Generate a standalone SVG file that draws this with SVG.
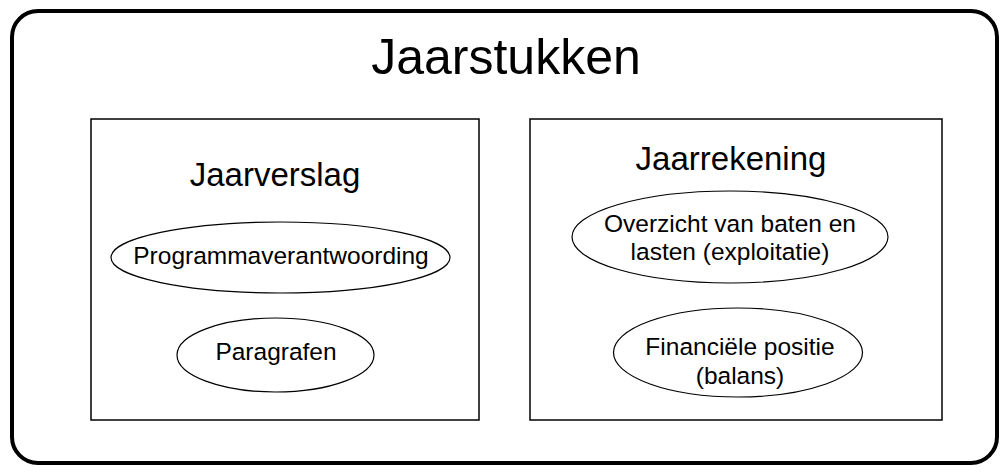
<svg xmlns="http://www.w3.org/2000/svg" width="1005" height="472" viewBox="0 0 1005 472">
<style>
text { font-family: "Liberation Sans", Arial, sans-serif; fill: #000; text-anchor: middle; }
.box { fill: #fff; stroke: #000; stroke-width: 1.5; }
.ell { fill: #fff; stroke: #000; stroke-width: 1.2; }
.t1 { font-size: 50px; }
.t2 { font-size: 33px; }
.t3 { font-size: 24.5px; }
</style>
<rect width="1005" height="472" fill="#fff"/>
<g id="jaarstukken">
<rect x="12" y="11" width="985" height="452" rx="26" ry="26" fill="#fff" stroke="#000" stroke-width="4"/>
<text class="t1" x="506" y="74">Jaarstukken</text>
</g>
<g id="jaarverslag">
<rect class="box" x="91" y="119" width="388" height="301"/>
<text class="t2" x="275" y="186">Jaarverslag</text>
</g>
<g id="programmaverantwoording">
<ellipse class="ell" cx="280.5" cy="257.5" rx="169.5" ry="35.5"/>
<text class="t3" x="281" y="264">Programmaverantwoording</text>
</g>
<g id="paragrafen">
<ellipse class="ell" cx="275.5" cy="355" rx="98.5" ry="37"/>
<text class="t3" x="276" y="360">Paragrafen</text>
</g>
<g id="jaarrekening">
<rect class="box" x="530" y="119" width="412" height="301"/>
<text class="t2" x="731" y="170">Jaarrekening</text>
</g>
<g id="overzicht">
<ellipse class="ell" cx="730" cy="237" rx="158" ry="46"/>
<text class="t3" x="730" y="232">Overzicht van baten en</text>
<text class="t3" x="730" y="260">lasten (exploitatie)</text>
</g>
<g id="financiele-positie">
<ellipse class="ell" cx="738" cy="352.5" rx="124.5" ry="44.5"/>
<text class="t3" x="740" y="355">Financiële positie</text>
<text class="t3" x="740" y="384">(balans)</text>
</g>
<g id="connectors"></g>
</svg>
